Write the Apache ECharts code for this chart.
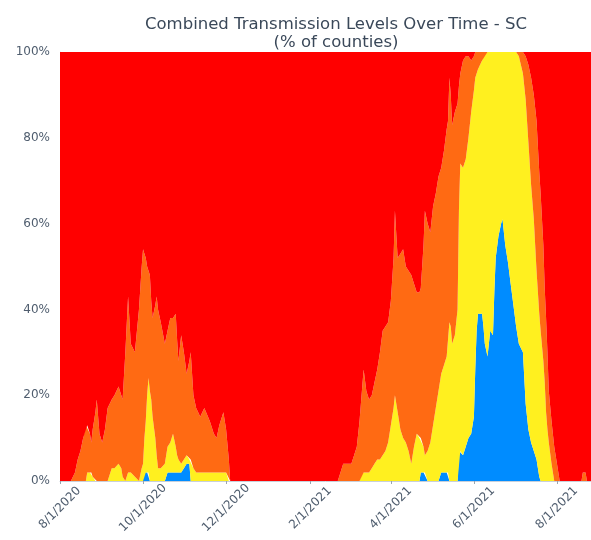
<!DOCTYPE html>
<html>
<head>
<meta charset="utf-8">
<script src="https://cdn.jsdelivr.net/npm/echarts@6.0.0/dist/echarts.min.js"></script>
<style>
html,body{margin:0;padding:0;background:#fff;}
#chart{width:591px;height:540px;}
</style>
</head>
<body>
<div id="chart"></div>
<script>
// ---- data ----
var dates = [
'2020-08-01','2020-08-09','2020-08-12','2020-08-14','2020-08-16','2020-08-18','2020-08-20','2020-08-21','2020-08-23','2020-08-24',
'2020-08-25','2020-08-27','2020-08-28','2020-08-30','2020-09-01','2020-09-03','2020-09-05','2020-09-08','2020-09-10','2020-09-13',
'2020-09-15','2020-09-16','2020-09-18','2020-09-20','2020-09-22','2020-09-25','2020-09-28','2020-09-30','2020-10-01','2020-10-02',
'2020-10-03','2020-10-04','2020-10-05','2020-10-06','2020-10-07','2020-10-08','2020-10-10','2020-10-11','2020-10-12','2020-10-14',
'2020-10-17','2020-10-19','2020-10-21','2020-10-23','2020-10-25','2020-10-26','2020-10-27','2020-10-29','2020-10-31','2020-11-02',
'2020-11-04','2020-11-05','2020-11-07','2020-11-09','2020-11-12','2020-11-15','2020-11-19','2020-11-22','2020-11-24','2020-11-26',
'2020-11-29','2020-12-01','2020-12-03','2020-12-04',
'2021-02-21','2021-02-23','2021-02-25','2021-03-01','2021-03-03','2021-03-05','2021-03-07','2021-03-09','2021-03-11','2021-03-12',
'2021-03-14','2021-03-16','2021-03-18','2021-03-20','2021-03-22','2021-03-24','2021-03-26','2021-03-28','2021-03-30','2021-04-01',
'2021-04-03','2021-04-04','2021-04-06','2021-04-08','2021-04-10','2021-04-12','2021-04-14','2021-04-16','2021-04-18','2021-04-20',
'2021-04-22','2021-04-23','2021-04-25','2021-04-26','2021-04-28','2021-04-30','2021-05-02','2021-05-04','2021-05-06','2021-05-08',
'2021-05-10','2021-05-12','2021-05-13','2021-05-14','2021-05-15','2021-05-16','2021-05-18','2021-05-20','2021-05-21','2021-05-22',
'2021-05-24','2021-05-26','2021-05-28','2021-05-30','2021-06-01','2021-06-02','2021-06-03','2021-06-04','2021-06-07','2021-06-08',
'2021-06-09','2021-06-11','2021-06-13','2021-06-15','2021-06-16','2021-06-17','2021-06-19','2021-06-21','2021-06-22','2021-06-24',
'2021-06-26','2021-06-28','2021-06-30','2021-07-02','2021-07-04','2021-07-07','2021-07-09','2021-07-11','2021-07-13','2021-07-15',
'2021-07-17','2021-07-18','2021-07-19','2021-07-20','2021-07-22','2021-07-23','2021-07-24','2021-07-25','2021-07-26','2021-07-28',
'2021-07-30','2021-08-01','2021-08-03','2021-08-19','2021-08-20','2021-08-22','2021-08-23','2021-08-26'
];

var low = [
0,0,0,0,0,0,0,0,0,0,
0,0,0,0,0,0,0,0,0,0,
0,0,0,0,0,0,0,0,0,2,
2,2,2,0,0,0,0,0,0,0,
0,2,2,2,2,2,2,2,3,4,
4,0,0,0,0,0,0,0,0,0,
0,0,0,0,
0,0,0,0,0,0,0,0,0,0,
0,0,0,0,0,0,0,0,0,0,
0,0,0,0,0,0,0,0,0,0,
0,2,2,2,0,0,0,0,0,2,
2,2,2,0,0,0,0,0,7,7,
6,8,10,11,15,26,35,39,39,36,
32,29,35,34,44,52,57,60,61,55,
51,46,41,36,32,30,18,12,9,7,
5,3,1,0,0,0,0,0,0,0,
0,0,0,0,0,0,0,0
];

var moderate = [
0,0,0,0,0,0,0,2,2,2,
1,0,0,0,0,0,0,3,3,4,
3,1,0,2,2,1,0,3,4,8,
12,18,22,21,19,15,10,6,3,3,
4,6,7,9,6,4,3,2,2,2,
1,5,3,2,2,2,2,2,2,2,
2,2,0,0,
0,0,0,0,0,0,0,0,2,2,
2,2,3,4,5,5,6,7,9,13,
17,20,16,12,10,9,7,4,8,11,
10,8,6,4,7,9,13,17,21,23,
25,27,31,37,36,32,34,40,56,67,
67,67,70,75,76,68,60,57,59,63,
67,71,65,66,56,48,43,40,39,45,
49,54,59,64,67,65,71,67,60,54,
44,41,38,35,28,23,16,12,9,4,
0,0,0,0,0,0,0,0
];

var substantial = [
0,0,2,5,7,10,13,11,9,7,
11,16,19,11,9,12,17,16,17,18,
17,18,30,41,30,29,40,47,50,43,
38,30,25,27,23,23,31,37,37,34,
28,27,29,27,31,27,23,30,25,19,
23,25,17,15,13,15,12,9,8,11,
14,10,5,0,
0,2,4,4,4,6,8,14,20,24,
19,17,17,19,21,25,29,29,28,29,
35,43,36,41,44,41,42,44,38,33,
34,35,47,57,53,49,51,50,50,48,
50,53,51,57,54,51,52,48,29,21,
25,24,19,12,8,6,5,4,2,1,
1,0,0,0,0,0,0,0,0,0,
0,0,0,0,1,5,10,18,25,29,
35,34,33,32,27,22,22,18,12,10,
8,4,0,0,2,2,0,0
];

var high = [
100,100,98,95,93,90,87,87,89,91,
88,84,81,89,91,88,83,81,80,78,
80,81,70,57,68,70,60,50,46,47,
48,50,51,52,58,62,59,57,60,63,
68,65,62,62,61,67,72,66,70,75,
72,70,80,83,85,83,86,89,90,87,
84,88,95,100,
100,98,96,96,96,94,92,86,78,74,
79,81,80,77,74,70,65,64,63,58,
48,37,48,47,46,50,51,52,54,56,
56,55,45,37,40,42,36,33,29,27,
23,18,16,6,10,17,14,12,8,5,
2,1,1,2,1,0,0,0,0,0,
0,0,0,0,0,0,0,0,0,0,
0,0,0,0,0,0,1,3,6,10,
16,22,28,33,45,55,62,70,79,86,
92,96,100,100,98,98,100,100
];

var tickDates = ['2020-08-01','2020-10-01','2020-12-01','2021-02-01','2021-04-01','2021-06-01','2021-08-01'];
var tickLabels = ['8/1/2020','10/1/2020','12/1/2020','2/1/2021','4/1/2021','6/1/2021','8/1/2021'];
var yTicks = [0, 20, 40, 60, 80, 100];

var seriesNames = ['Low', 'Moderate', 'Substantial', 'High'];
var seriesColors = ['#008cff', '#fff01f', '#ff6a13', '#ff0000'];

// ---- helpers ----
function ts(s) {
  var p = s.split('-');
  return new Date(+p[0], +p[1] - 1, +p[2]).getTime();
}
var tickTs = tickDates.map(ts);
// items are [value, time] so the stacked dimension is the value
function pairs(vals) {
  return dates.map(function (d, i) { return [vals[i], ts(d)]; });
}

var allVals = [low, moderate, substantial, high];
var series = allVals.map(function (vals, k) {
  return {
    name: seriesNames[k],
    type: 'line',
    stack: 'total',
    symbol: 'none',
    encode: { x: 1, y: 0 },
    lineStyle: { width: 0 },
    areaStyle: { color: seriesColors[k], opacity: 1 },
    itemStyle: { color: seriesColors[k] },
    data: pairs(vals)
  };
});

var txt = '#4f5d6e';
var chart = echarts.init(document.getElementById('chart'), null, { renderer: 'canvas' });
chart.setOption({
  animation: false,
  backgroundColor: '#ffffff',
  textStyle: { fontFamily: 'DejaVu Sans' },
  title: {
    text: 'Combined Transmission Levels Over Time - SC\n(% of counties)',
    left: 331,
    top: 11,
    textAlign: 'center',
    textStyle: { fontSize: 16.5, fontWeight: 'normal', color: '#3a4859', lineHeight: 18, fontFamily: 'DejaVu Sans' }
  },
  grid: { left: 60, right: 0, top: 52, bottom: 59 },
  xAxis: {
    type: 'value',
    min: ts('2020-08-01'),
    max: ts('2021-08-26'),
    axisLine: { show: true, lineStyle: { color: '#c8d0da', width: 1 } },
    axisTick: { show: true, customValues: tickTs, length: 3, lineStyle: { color: '#9aa5b1' } },
    splitLine: { show: false },
    axisLabel: {
      customValues: tickTs,
      rotate: 45,
      align: 'center',
      verticalAlign: 'middle',
      fontSize: 12,
      color: txt,
      margin: 27,
      hideOverlap: false,
      showMinLabel: true,
      showMaxLabel: true,
      formatter: function (v) {
        var i = tickTs.indexOf(v);
        return i >= 0 ? tickLabels[i] : '';
      }
    }
  },
  yAxis: {
    type: 'value',
    min: yTicks[0],
    max: yTicks[yTicks.length - 1],
    interval: 20,
    axisLine: { show: true, lineStyle: { color: '#e0e5eb' } },
    axisTick: { show: false },
    splitLine: { show: false },
    axisLabel: { fontSize: 12, color: txt, margin: 10, formatter: '{value}%' }
  },
  series: series
});
</script>
</body>
</html>
